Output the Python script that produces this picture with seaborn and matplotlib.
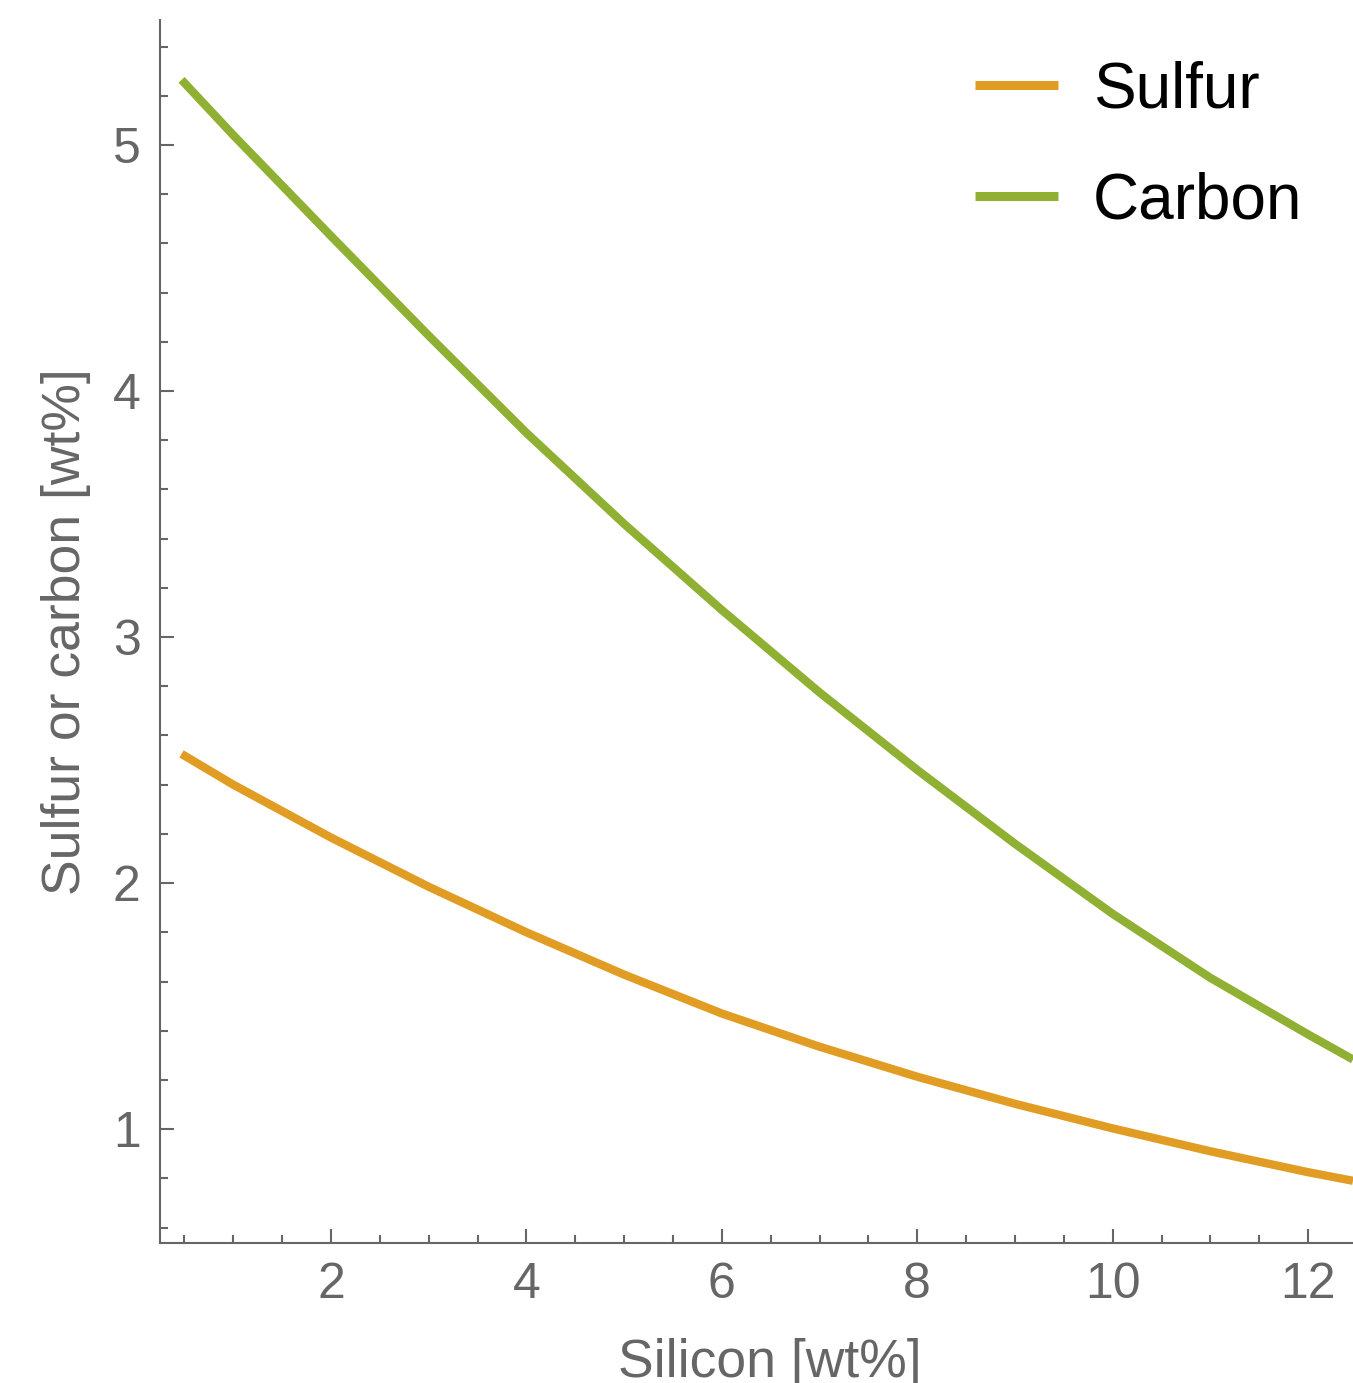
import numpy as np
import pandas as pd
import matplotlib
matplotlib.use("Agg")
import matplotlib.pyplot as plt
from matplotlib.ticker import MultipleLocator
import seaborn as sns

# Silicon content of the alloy and the matching sulfur / carbon contents
silicon = [0.47, 1.0, 2.0, 3.0, 4.0, 5.0, 6.0, 7.0, 8.0, 9.0, 10.0, 11.0, 12.0, 12.46]
sulfur = [2.525, 2.40, 2.185, 1.985, 1.80, 1.628, 1.47, 1.335, 1.213, 1.103, 1.003, 0.91, 0.825, 0.79]
carbon = [5.265, 5.04, 4.63, 4.225, 3.83, 3.46, 3.11, 2.775, 2.46, 2.16, 1.875, 1.615, 1.385, 1.283]

series_names = ["Sulfur", "Carbon"]
series_colors = {"Sulfur": "#E19C24", "Carbon": "#8FB032"}

df = pd.concat([
    pd.DataFrame({"Silicon": silicon, "value": sulfur, "element": "Sulfur"}),
    pd.DataFrame({"Silicon": silicon, "value": carbon, "element": "Carbon"}),
], ignore_index=True)

sns.set_style("ticks")
plt.rcParams["font.family"] = ["Liberation Sans", "DejaVu Sans"]

axis_gray = "#666666"

fig = plt.figure(figsize=(13.53, 13.83), dpi=100)
ax = fig.add_axes([0.1183, 0.1012, 0.8817, 0.8843])

sns.lineplot(data=df, x="Silicon", y="value", hue="element", hue_order=series_names,
             palette=series_colors, linewidth=6, ax=ax, sort=False,
             solid_capstyle="butt", solid_joinstyle="round")

ax.set_xlim(0.25, 12.46)
ax.set_ylim(0.537, 5.508)

ax.xaxis.set_major_locator(MultipleLocator(2))
ax.xaxis.set_minor_locator(MultipleLocator(0.5))
ax.yaxis.set_major_locator(MultipleLocator(1))
ax.yaxis.set_minor_locator(MultipleLocator(0.2))

for side in ["top", "right"]:
    ax.spines[side].set_visible(False)
for side in ["left", "bottom"]:
    ax.spines[side].set_color(axis_gray)
    ax.spines[side].set_linewidth(1.5)

ax.tick_params(which="both", direction="in", color=axis_gray, width=1.5,
               labelcolor=axis_gray, labelsize=36)
ax.tick_params(which="major", length=10, pad=14)
ax.tick_params(which="minor", length=5.5)

ax.set_xlabel("Silicon [wt%]", fontsize=38.5, color=axis_gray, labelpad=16)
ax.set_ylabel("Sulfur or carbon [wt%]", fontsize=38.5, color=axis_gray, labelpad=16)
ax.xaxis.set_label_coords(0.511, -0.078)

leg = ax.legend(loc="upper left", bbox_to_anchor=(0.683, 0.967), frameon=False,
                fontsize=46, handlelength=1.3, handletextpad=0.55,
                labelspacing=0.8, borderpad=0, borderaxespad=0)
for line in leg.get_lines():
    line.set_linewidth(6.5)
for text in leg.get_texts():
    text.set_color("black")

fig.savefig("out.png", dpi=100)
